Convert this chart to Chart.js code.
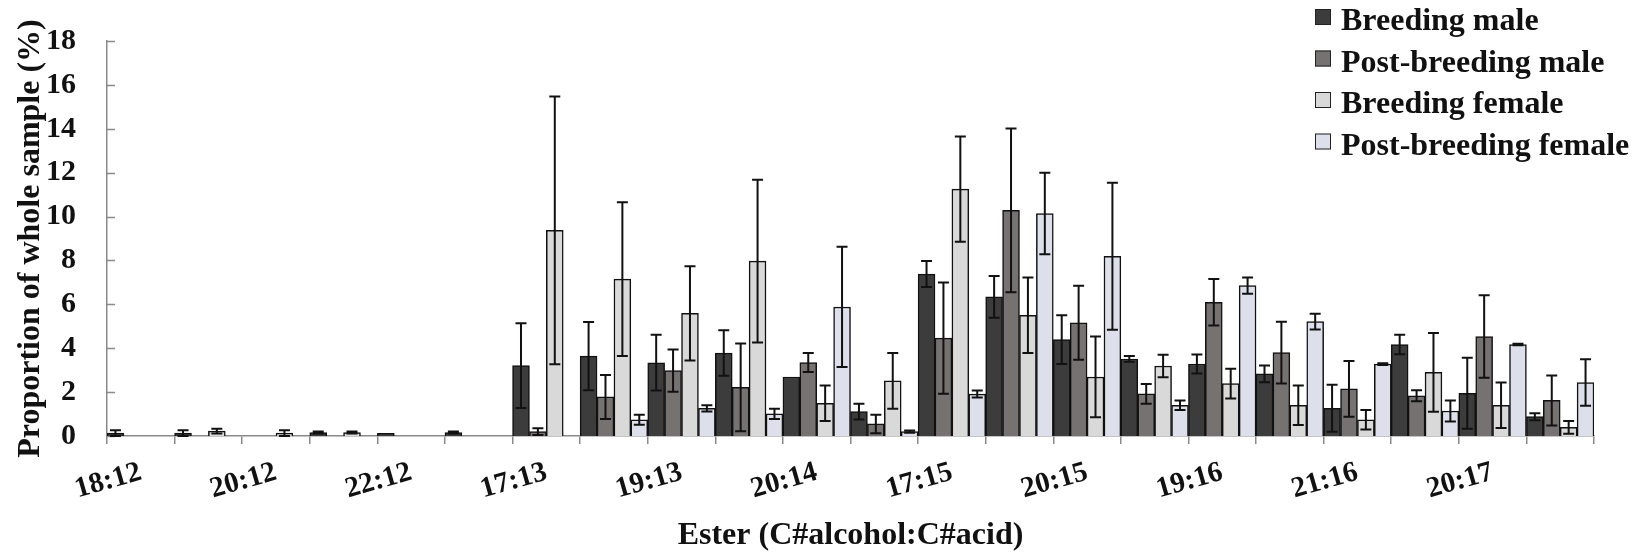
<!DOCTYPE html>
<html>
<head>
<meta charset="utf-8">
<title>Ester proportions</title>
<script src="https://cdn.jsdelivr.net/npm/chart.js@4.4.1/dist/chart.umd.min.js"></script>
<style>
  html, body { margin: 0; padding: 0; background: #fff; }
  #wrap { width: 1650px; height: 555px; }
</style>
</head>
<body>
<div id="wrap"><canvas id="esterChart" width="1650" height="555"></canvas></div>
<script>
// Ester labels printed under every other category
const tickLabels = ['18:12', '20:12', '22:12', '17:13', '19:13', '20:14',
                    '17:15', '20:15', '19:16', '21:16', '20:17'];

const seriesNames = ['Breeding male', 'Post-breeding male', 'Breeding female', 'Post-breeding female'];
const seriesColors = ['#3c3c3c', '#777272', '#d9d9d9', '#dde0ea'];

// Means (% of whole sample), one value per ester
const breedingMale      = [0.13, 0.13, 0, 0.16, 0.12, 0.16, 3.21, 3.64, 3.34, 3.78, 2.69,
                           1.11, 7.38, 6.34, 4.39, 3.51, 3.28, 2.83, 1.26, 4.17, 1.95, 0.88];
const postBreedingMale  = [0, 0, 0, 0, 0, 0, 0.20, 1.78, 2.98, 2.22, 3.35,
                           0.55, 4.46, 10.28, 5.16, 1.92, 6.09, 3.80, 2.15, 1.83, 4.53, 1.62];
const breedingFemale    = [0, 0.22, 0.13, 0.16, 0, 0, 9.37, 7.15, 5.59, 7.97, 1.49,
                           2.51, 11.25, 5.50, 2.69, 3.19, 2.39, 1.40, 0.74, 2.90, 1.40, 0.39];
const postBreedingFemale = [0, 0, 0, 0, 0, 0, 0, 0.74, 1.26, 1.01, 5.88,
                           0.20, 1.91, 10.14, 8.19, 1.40, 6.85, 5.21, 3.28, 1.14, 4.17, 2.44];

// Standard errors
const breedingMaleErr      = [0.13, 0.13, 0, 0.05, 0, 0.05, 1.93, 1.56, 1.27, 1.04, 0,
                              0.36, 0.59, 0.95, 1.11, 0.13, 0.43, 0.38, 1.07, 0.44, 1.62, 0.16];
const postBreedingMaleErr  = [0, 0, 0, 0, 0, 0, 0.15, 1.00, 0.96, 2.00, 0.43,
                              0.42, 2.54, 3.73, 1.69, 0.45, 1.06, 1.41, 1.27, 0.25, 1.88, 1.14];
const breedingFemaleErr    = [0, 0.11, 0.13, 0.05, 0, 0, 6.10, 3.50, 2.15, 3.71, 0.81,
                              1.27, 2.40, 1.72, 1.84, 0.51, 0.68, 0.90, 0.44, 1.79, 1.04, 0.29];
const postBreedingFemaleErr = [0, 0, 0, 0, 0, 0, 0, 0.23, 0.14, 0.23, 2.74,
                              0.05, 0.16, 1.86, 3.35, 0.22, 0.37, 0.36, 0.04, 0.48, 0.03, 1.06];

const yTicks = { min: 0, max: 18, step: 2 };

// one category per ester, only the even ones carry a printed label
const categories = tickLabels.flatMap(t => [t, '']);

const means = [breedingMale, postBreedingMale, breedingFemale, postBreedingFemale];
const errors = [breedingMaleErr, postBreedingMaleErr, breedingFemaleErr, postBreedingFemaleErr];

const serif = "'Liberation Serif', 'Times New Roman', serif";
const axisGrey = '#8a8a8a';

const datasets = seriesNames.map((name, i) => ({
    label: name,
    data: means[i],
    errors: errors[i],
    backgroundColor: seriesColors[i],
    borderColor: '#111',
    borderWidth: 1.5,
    barPercentage: 1,
    categoryPercentage: 1
}));

// +/- error bars, drawn on top of the bars
const errorBars = {
    id: 'errorBars',
    afterDatasetsDraw(chart) {
        const { ctx, scales: { y } } = chart;
        ctx.save();
        ctx.strokeStyle = '#111';
        ctx.lineWidth = 2;
        chart.data.datasets.forEach((ds, i) => {
            const meta = chart.getDatasetMeta(i);
            meta.data.forEach((bar, j) => {
                const v = ds.data[j];
                const e = ds.errors[j];
                if (!v || !e) return;
                const top = y.getPixelForValue(v + e);
                const bottom = y.getPixelForValue(Math.max(v - e, 0));
                const cap = 5.5;
                ctx.beginPath();
                ctx.moveTo(bar.x, top);
                ctx.lineTo(bar.x, bottom);
                ctx.moveTo(bar.x - cap, top);
                ctx.lineTo(bar.x + cap, top);
                ctx.moveTo(bar.x - cap, bottom);
                ctx.lineTo(bar.x + cap, bottom);
                ctx.stroke();
            });
        });
        ctx.restore();
    }
};

// short tick marks pointing into the plot from the value axis
const innerTicks = {
    id: 'innerTicks',
    beforeDatasetsDraw(chart) {
        const { ctx, chartArea, scales: { y } } = chart;
        ctx.save();
        ctx.strokeStyle = axisGrey;
        ctx.lineWidth = 1.5;
        y.ticks.forEach(t => {
            const py = Math.round(y.getPixelForValue(t.value)) + 0.5;
            ctx.beginPath();
            ctx.moveTo(chartArea.left, py);
            ctx.lineTo(chartArea.left + 8, py);
            ctx.stroke();
        });
        ctx.restore();
    }
};

// legend stacked in the top right corner
const cornerLegend = {
    id: 'cornerLegend',
    afterDraw(chart) {
        const { ctx } = chart;
        const x = 1315, y0 = 30, rowH = 41.5, box = 16;
        ctx.save();
        ctx.font = `bold 32px ${serif}`;
        ctx.textBaseline = 'alphabetic';
        ctx.textAlign = 'left';
        chart.data.datasets.forEach((ds, i) => {
            const base = y0 + i * rowH;
            ctx.fillStyle = ds.backgroundColor;
            ctx.fillRect(x, base - 21, box, box);
            ctx.strokeStyle = '#222';
            ctx.lineWidth = 1;
            ctx.strokeRect(x + 0.5, base - 20.5, box - 1, box - 1);
            ctx.fillStyle = '#111';
            ctx.fillText(ds.label, x + 26, base);
        });
        ctx.restore();
    }
};

new Chart(document.getElementById('esterChart'), {
    type: 'bar',
    data: { labels: categories, datasets: datasets },
    options: {
        responsive: false,
        animation: false,
        devicePixelRatio: 1,
        layout: { padding: { top: 20, right: 56, bottom: 0, left: 0 } },
        plugins: {
            legend: { display: false },
            tooltip: { enabled: false }
        },
        scales: {
            x: {
                offset: true,
                grid: {
                    offset: true,
                    drawOnChartArea: false,
                    drawTicks: true,
                    tickLength: 8,
                    color: axisGrey,
                    lineWidth: 1.5
                },
                border: { display: true, color: axisGrey, width: 1.5 },
                ticks: {
                    autoSkip: false,
                    minRotation: 16,
                    maxRotation: 16,
                    padding: 11,
                    color: '#111',
                    font: { family: serif, size: 29, weight: 'bold' }
                },
                title: {
                    display: true,
                    text: 'Ester (C#alcohol:C#acid)',
                    color: '#111',
                    font: { family: serif, size: 32, weight: 'bold' },
                    padding: { top: 0, bottom: 0 }
                },
                afterFit(scale) { scale.height = 119; }
            },
            y: {
                min: yTicks.min,
                max: yTicks.max,
                grid: { display: false },
                border: { display: true, color: axisGrey, width: 1.5 },
                ticks: {
                    stepSize: yTicks.step,
                    padding: 23,
                    color: '#111',
                    font: { family: serif, size: 30, weight: 'bold' }
                },
                title: {
                    display: true,
                    text: 'Proportion of whole sample (%)',
                    color: '#111',
                    font: { family: serif, size: 32, weight: 'bold' },
                    padding: { top: 12, bottom: 0 }
                },
                afterFit(scale) { scale.width = 107; }
            }
        }
    },
    plugins: [innerTicks, errorBars, cornerLegend]
});
</script>
</body>
</html>
